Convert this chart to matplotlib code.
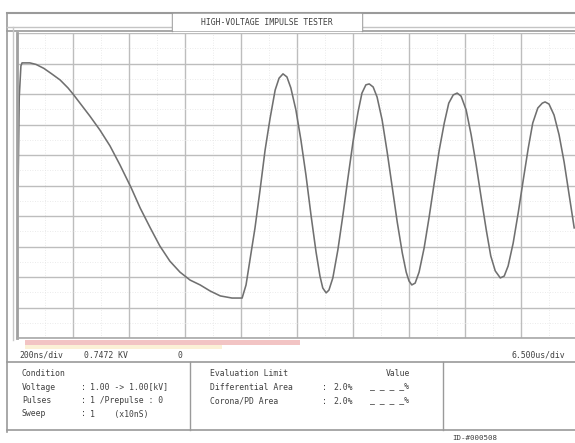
import matplotlib
matplotlib.use("Agg")
import matplotlib.pyplot as plt
import numpy as np

# ---- data (time in divisions, amplitude in divisions) ----
wave_t = [0.02, 0.04, 0.07, 0.09, 0.23, 0.34, 0.48, 0.62, 0.77, 0.91, 1.00, 1.125, 1.30, 1.48, 1.66,
          1.84, 2.04, 2.20, 2.38, 2.55, 2.73, 2.91, 3.09, 3.27, 3.45, 3.63, 3.84, 4.02,
          4.09, 4.16, 4.25, 4.34, 4.43, 4.52, 4.61, 4.68, 4.75, 4.82, 4.89, 4.98, 5.07, 5.16,
          5.25, 5.34, 5.41, 5.46, 5.52, 5.57, 5.64, 5.73, 5.82, 5.91, 6.00, 6.09, 6.16, 6.23,
          6.29, 6.36, 6.43, 6.52, 6.61, 6.70, 6.79, 6.88, 6.95, 7.00, 7.05, 7.11, 7.18, 7.27,
          7.36, 7.45, 7.54, 7.63, 7.71, 7.79, 7.86, 7.93, 8.02, 8.11, 8.20, 8.29, 8.38, 8.46,
          8.54, 8.63, 8.70, 8.77, 8.86, 8.95, 9.04, 9.13, 9.21, 9.30, 9.38, 9.43, 9.50, 9.59,
          9.68, 9.77, 9.86, 9.95]
wave_v = [0.00, 2.90, 3.92, 4.02, 4.02, 3.97, 3.84, 3.66, 3.46, 3.20, 3.00, 2.70, 2.28, 1.82, 1.30,
          0.67, -0.08, -0.74, -1.39, -1.98, -2.48, -2.84, -3.10, -3.26, -3.46, -3.62, -3.69, -3.69,
          -3.26, -2.44, -1.39, -0.15, 1.16, 2.21, 3.13, 3.52, 3.66, 3.56, 3.20, 2.48, 1.49, 0.34,
          -0.97, -2.18, -2.97, -3.36, -3.52, -3.43, -3.03, -2.11, -0.97, 0.25, 1.43, 2.41, 3.03, 3.30,
          3.33, 3.23, 2.90, 2.15, 1.10, -0.05, -1.20, -2.21, -2.84, -3.13, -3.26, -3.20, -2.84, -2.05,
          -1.03, 0.08, 1.16, 2.05, 2.70, 2.97, 3.03, 2.93, 2.48, 1.66, 0.67, -0.41, -1.46, -2.31,
          -2.80, -3.03, -2.97, -2.64, -1.89, -0.90, 0.18, 1.23, 2.05, 2.54, 2.70, 2.74, 2.67, 2.31,
          1.66, 0.77, -0.31, -1.39]

title_text = "HIGH-VOLTAGE IMPULSE TESTER"
time_div = "200ns/div"
level_text = "0.7472 KV"
offset_text = "0"
right_scale = "6.500us/div"
cond_labels = ["Voltage", "Pulses", "Sweep"]
cond_values = ["1.00 -> 1.00[kV]", "1 /Prepulse : 0", "1    (x10nS)"]
eval_labels = ["Differential Area", "Corona/PD Area"]
eval_limits = ["2.0%", "2.0%"]
eval_values = ["_ _ _ _%", "_ _ _ _%"]
id_text = "ID-#000508"

W, H = 575, 443
fig = plt.figure(figsize=(W / 100, H / 100), dpi=100)
fig.patch.set_facecolor("white")

# overlay in pixel space for frame and texts
ov = fig.add_axes([0, 0, 1, 1])
ov.set_xlim(0, W)
ov.set_ylim(H, 0)
ov.axis("off")

frame_c = "#9a9a9a"
txt_c = "#404040"
font = "DejaVu Sans Mono"
fs = 5.9

# outer frame lines
ov.plot([7, 7], [13, 432], color=frame_c, lw=1.2)
ov.plot([7, W], [13, 13], color=frame_c, lw=1.5)
ov.plot([7, W], [27, 27], color="#c4c4c4", lw=1.0)
ov.plot([7, W], [31, 31], color=frame_c, lw=1.2)
ov.plot([13, 13], [27, 340], color="#c8c8c8", lw=1.0)
# title box
ov.plot([172, 172], [13, 31], color=frame_c, lw=1.0)
ov.plot([362, 362], [13, 31], color=frame_c, lw=1.0)
ov.fill_between([173, 361], 13.8, 30.2, color="white", zorder=3)
ov.text(267, 22, title_text, ha="center", va="center", fontsize=fs, color=txt_c,
        family=font, zorder=4)

# pink / yellow bars under plot
ov.fill_between([25, 300], 340, 345, color="#f2c4c4", lw=0)
ov.fill_between([25, 222], 345, 349, color="#fbf1d6", lw=0)

# scale row
ov.text(19, 355.5, time_div, ha="left", va="center", fontsize=fs, color=txt_c, family=font)
ov.text(84, 355.5, level_text, ha="left", va="center", fontsize=fs, color=txt_c, family=font)
ov.text(177, 355.5, offset_text, ha="left", va="center", fontsize=fs, color=txt_c, family=font)
ov.text(511, 355.5, right_scale, ha="left", va="center", fontsize=fs, color=txt_c, family=font)

# info box
ov.plot([7, W], [362, 362], color=frame_c, lw=1.2)
ov.plot([7, W], [430, 430], color=frame_c, lw=1.2)
ov.plot([190, 190], [362, 430], color=frame_c, lw=1.0)
ov.plot([443, 443], [362, 430], color=frame_c, lw=1.0)

ov.text(22, 373, "Condition", ha="left", va="center", fontsize=fs, color=txt_c, family=font)
for i, (lab, val) in enumerate(zip(cond_labels, cond_values)):
    y = 387 + i * 13.5
    ov.text(22, y, lab, ha="left", va="center", fontsize=fs, color=txt_c, family=font)
    ov.text(81, y, ":", ha="left", va="center", fontsize=fs, color=txt_c, family=font)
    ov.text(90, y, val, ha="left", va="center", fontsize=fs, color=txt_c, family=font)

ov.text(210, 373, "Evaluation Limit", ha="left", va="center", fontsize=fs, color=txt_c, family=font)
ov.text(398, 373, "Value", ha="center", va="center", fontsize=fs, color=txt_c, family=font)
for i, (lab, lim, val) in enumerate(zip(eval_labels, eval_limits, eval_values)):
    y = 387 + i * 14
    ov.text(210, y, lab, ha="left", va="center", fontsize=fs, color=txt_c, family=font)
    ov.text(322, y, ":", ha="left", va="center", fontsize=fs, color=txt_c, family=font)
    ov.text(333, y, lim, ha="left", va="center", fontsize=fs, color=txt_c, family=font)
    ov.text(370, y, val, ha="left", va="center", fontsize=fs, color=txt_c, family=font)

ov.text(452, 438, id_text, ha="left", va="center", fontsize=5.4, color=txt_c, family=font)

# ---- main waveform axes ----
x0, x1, y0, y1 = 17, 577, 33, 338
ax = fig.add_axes([x0 / W, 1 - y1 / H, (x1 - x0) / W, (y1 - y0) / H])
ax.set_xlim(0, 10)
ax.set_ylim(-5, 5)
ax.set_facecolor("white")
ax.set_xticks(np.arange(0, 11, 1))
ax.set_yticks(np.arange(-5, 6, 1))
ax.set_xticks(np.arange(0, 10.01, 0.5), minor=True)
ax.set_yticks(np.arange(-5, 5.01, 0.5), minor=True)
ax.grid(True, which="major", color="#bdbdbd", lw=1.0)
ax.grid(True, which="minor", color="#e4e4e4", lw=0.6, ls=(0, (1, 2)))
ax.tick_params(which="both", length=0, labelbottom=False, labelleft=False)
for s in ["top", "right"]:
    ax.spines[s].set_visible(False)
ax.spines["left"].set_color("#a0a0a0")
ax.spines["left"].set_linewidth(2.0)
ax.spines["bottom"].set_color("#a8a8a8")
ax.spines["bottom"].set_linewidth(1.2)

ax.plot(wave_t, wave_v, color="#707070", lw=1.15, solid_joinstyle="round")

fig.savefig("out.png", dpi=100, facecolor="white")
